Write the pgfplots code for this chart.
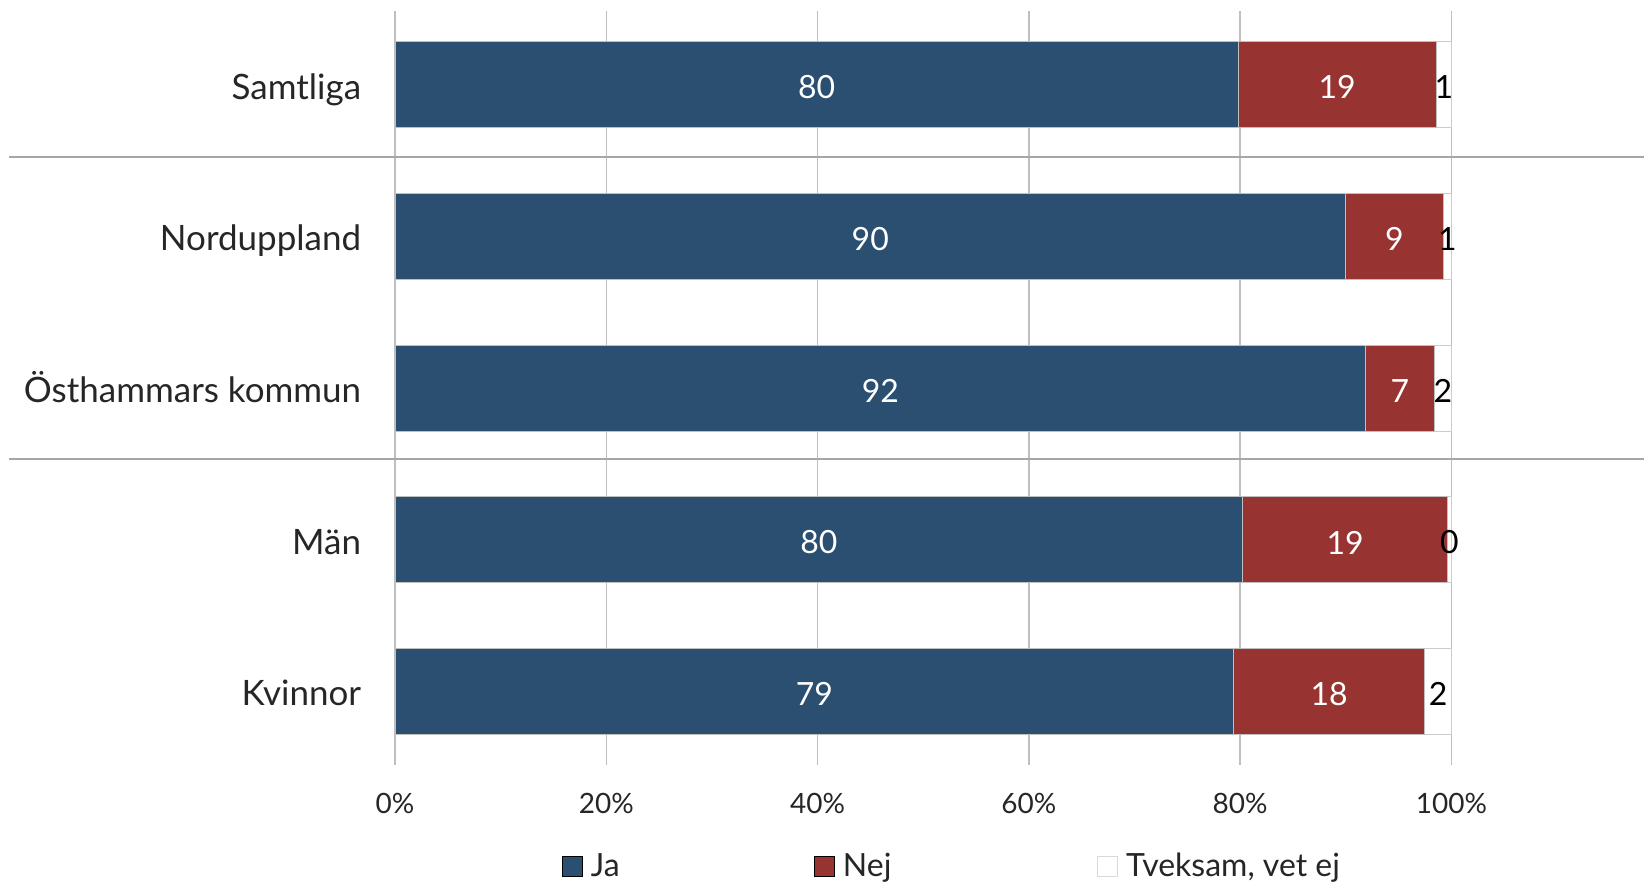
\documentclass[border=0pt]{standalone}
\usepackage{pgfplots}
\pgfplotsset{compat=1.18}
\usepackage{pgfplotstable}
\usepackage{fontspec}
\setmainfont{Lato}
\definecolor{jablue}{HTML}{2A4F70}
\definecolor{nejred}{HTML}{973431}
\definecolor{gridgray}{HTML}{BFBFBF}
\definecolor{sepgray}{HTML}{A6A6A6}
\definecolor{txt}{HTML}{262626}
\pgfplotstableread{
y ja nej tv jal nejl tvl
4 79.80 18.75 1.45 80 19 1
3 89.97 9.27 0.76 90 9 1
2 91.90 6.46 1.64 92 7 2
1 80.26 19.34 0.40 80 19 0
0 79.38 18.10 2.52 79 18 2
}\data
\begin{document}
\begin{tikzpicture}
\begin{axis}[
  scale only axis, width=528.5pt, height=377pt,
  xmin=0, xmax=100, ymin=-0.481, ymax=4.486,
  axis line style={draw=none}, major tick length=0pt,
  xtick={0,20,...,100},
  xticklabel={\pgfmathprintnumber{\tick}\%},
  /pgf/number format/assume math mode=true,
  xmajorgrids, major grid style={gridgray, line width=0.75pt},
  ytick={0,1,2,3,4},
  yticklabels={Kvinnor,Män,Östhammars kommun,Norduppland,Samtliga},
  xticklabel style={anchor=center, yshift=-19.4pt, font=\fontsize{14}{17}\selectfont, text=txt},
  yticklabel style={anchor=base east, inner sep=0pt, xshift=-16.8pt, yshift=-7.2pt, font=\fontsize{17.5}{21}\selectfont, text=txt},
  clip=false,
  legend image code/.code={\draw[#1] (0pt,-5pt) rectangle (10pt,5pt);},
  legend columns=3,
  legend style={draw=none, fill=none, inner sep=0pt, outer sep=0pt,
    at={(0.1582,-0.1355)}, anchor=west,
    font=\fontsize{16}{19}\selectfont, text=txt,
    nodes={inner sep=0pt},
    /tikz/every odd column/.style={column sep=4pt},
    /tikz/every even column/.style={column sep=0pt}},
]
\addlegendimage{fill=jablue, draw=none}
\addlegendentry{\makebox[111.65pt][l]{Ja}}
\addlegendimage{fill=nejred, draw=none}
\addlegendentry{\makebox[127.2pt][l]{Nej}}
\addlegendimage{fill=white, draw=gridgray!60, line width=0.5pt}
\addlegendentry{Tveksam, vet ej}

\addplot[xbar, bar width=0.5665, bar shift=0pt, fill=white, draw=gridgray!80, line width=0.5pt, forget plot]
  table[x expr=\thisrow{ja}+\thisrow{nej}+\thisrow{tv}, y=y]{\data};
\addplot[xbar, bar width=0.5665, bar shift=0pt, fill=nejred, draw=gridgray, line width=0.5pt, forget plot]
  table[x expr=\thisrow{ja}+\thisrow{nej}, y=y]{\data};
\addplot[xbar, bar width=0.5665, bar shift=0pt, fill=jablue, draw=gridgray, line width=0.5pt, forget plot]
  table[x=ja, y=y]{\data};

\addplot[draw=none, forget plot, nodes near coords, point meta=explicit symbolic,
  nodes near coords style={anchor=center, yshift=-1.3pt, text=white, font=\fontsize{16}{19}\selectfont}]
  table[x expr=\thisrow{ja}/2, y=y, meta=jal]{\data};
\addplot[draw=none, forget plot, nodes near coords, point meta=explicit symbolic,
  nodes near coords style={anchor=center, yshift=-1.3pt, text=white, font=\fontsize{16}{19}\selectfont}]
  table[x expr=\thisrow{ja}+\thisrow{nej}/2, y=y, meta=nejl]{\data};
\addplot[draw=none, forget plot, nodes near coords, point meta=explicit symbolic,
  nodes near coords style={anchor=center, yshift=-1.3pt, text=black, font=\fontsize{16}{19}\selectfont}]
  table[x expr=\thisrow{ja}+\thisrow{nej}+\thisrow{tv}/2, y=y, meta=tvl]{\data};

\draw[sepgray, line width=1pt] (rel axis cs:-0.3655,0.8068) -- (rel axis cs:1.1823,0.8068);
\draw[sepgray, line width=1pt] (rel axis cs:-0.3655,0.4054) -- (rel axis cs:1.1823,0.4054);
\path (rel axis cs:-0.374,1.0146) rectangle (rel axis cs:1.1823,-0.1578);
\end{axis}
\end{tikzpicture}
\end{document}
